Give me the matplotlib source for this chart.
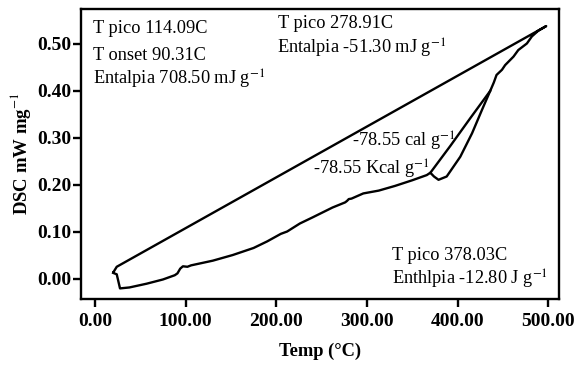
import matplotlib
matplotlib.use("Agg")
import matplotlib.pyplot as plt

plt.rcParams['font.family'] = ['Liberation Serif', 'DejaVu Serif']
plt.rcParams['mathtext.fontset'] = 'stix'

# Main trace: heating (lower curve), rise to 500 C, cooling line back to start
temp = [20.0, 24.0, 27.6, 38, 57, 75, 88, 91, 94, 97, 102, 106, 130, 152, 175, 190,
        205, 212, 226, 240, 262, 276, 278, 280, 283, 296, 313, 331, 350, 366, 370,
        374, 379, 388, 403, 416, 427, 436, 440, 443, 449, 452.5, 461.7, 467, 476.5,
        482, 489, 497.8, 24.0, 20.5]
dsc = [0.013, 0.010, -0.020, -0.018, -0.010, -0.001, 0.008, 0.012, 0.022, 0.027,
       0.026, 0.029, 0.039, 0.051, 0.066, 0.080, 0.096, 0.101, 0.118, 0.131, 0.152,
       0.163, 0.166, 0.170, 0.171, 0.182, 0.188, 0.198, 0.210, 0.221, 0.226, 0.218,
       0.211, 0.218, 0.260, 0.310, 0.360, 0.400, 0.418, 0.434, 0.445, 0.455, 0.473,
       0.487, 0.501, 0.516, 0.528, 0.538, 0.026, 0.015]

# Thin branch of the loop near 370-436 C
loop_temp = [370, 392, 414, 436]
loop_dsc = [0.226, 0.283, 0.342, 0.400]

xticks = [0, 100, 200, 300, 400, 500]
yticks = [0.0, 0.1, 0.2, 0.3, 0.4, 0.5]

fig = plt.figure(figsize=(5.74, 3.66), dpi=100)
ax = fig.add_axes([0.141, 0.183, 0.833, 0.792])

ax.plot(temp, dsc, color='black', lw=1.7, solid_joinstyle='round')
ax.plot(loop_temp, loop_dsc, color='black', lw=1.7)

ax.set_xlim(-15.5, 512)
ax.set_ylim(-0.0426, 0.574)
ax.set_xticks(xticks)
ax.set_xticklabels([f"{v:.2f}" for v in xticks])
ax.set_yticks(yticks)
ax.set_yticklabels([f"{v:.2f}" for v in yticks])

for s in ax.spines.values():
    s.set_linewidth(1.7)
ax.tick_params(direction='out', length=6, width=1.7, labelsize=14)
ax.tick_params(axis='y', pad=1)
ax.tick_params(axis='x', pad=4)
for lab in ax.get_xticklabels() + ax.get_yticklabels():
    lab.set_fontweight('bold')

ax.set_xlabel('Temp (°C)', fontsize=13.3, fontweight='bold', labelpad=9)
ax.set_ylabel(r'DSC mW mg$^{-1}$', fontsize=13.5, fontweight='bold', labelpad=3)

fs = 13.2
ax.text(-1.8, 0.523, 'T pico 114.09C', fontsize=fs)
ax.text(-1.8, 0.466, 'T onset 90.31C', fontsize=fs)
ax.text(-1.8, 0.413, r'Entalpia 708.50 mJ g$^{-1}$', fontsize=fs)
ax.text(202, 0.533, 'T pico 278.91C', fontsize=fs)
ax.text(200.5, 0.480, r'Entalpia -51.30 mJ g$^{-1}$', fontsize=fs)
ax.text(283, 0.2816, r'-78.55 cal g$^{-1}$', fontsize=fs)
ax.text(241, 0.221, r'-78.55 Kcal g$^{-1}$', fontsize=fs)
ax.text(327.5, 0.040, 'T pico 378.03C', fontsize=fs)
ax.text(327.5, -0.013, r'Enthlpia -12.80 J g$^{-1}$', fontsize=fs)

fig.savefig('out.png', dpi=100)
